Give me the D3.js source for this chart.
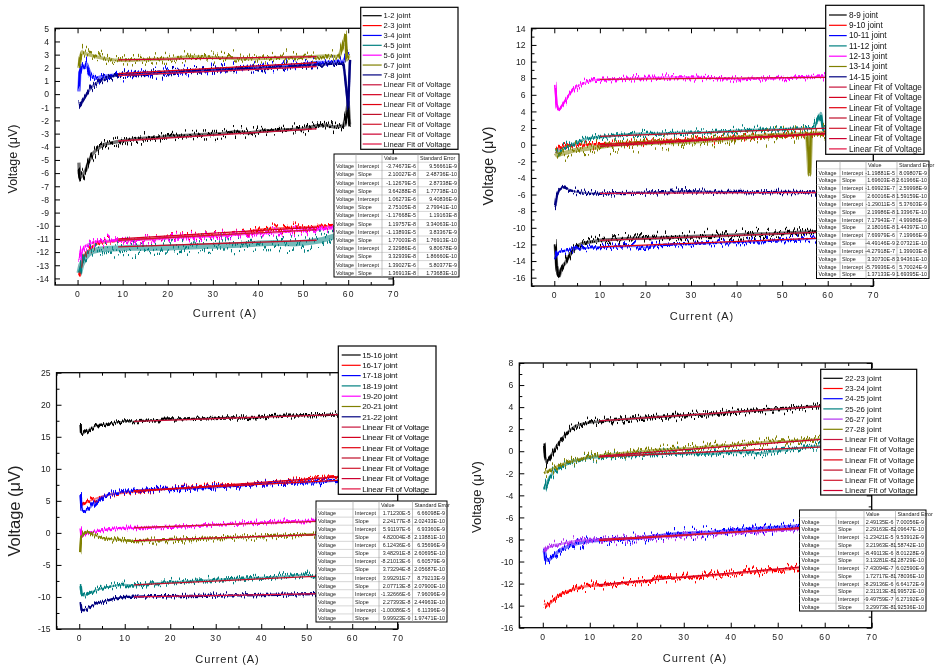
<!DOCTYPE html>
<html><head><meta charset="utf-8">
<script src="https://cdn.jsdelivr.net/npm/d3@7"></script>
<style>body{margin:0;background:#fff}svg{display:block;will-change:transform}svg text{-webkit-font-smoothing:antialiased}</style>
</head><body><svg id="c" width="944" height="666"></svg>
<script>
// ---------------- DATA ----------------
const xTicks = [0,10,20,30,40,50,60,70];
const xMinor = [-5,5,15,25,35,45,55,65];
const yTicksTL = [-14,-13,-12,-11,-10,-9,-8,-7,-6,-5,-4,-3,-2,-1,0,1,2,3,4,5];
const yTicksTR = [-16,-14,-12,-10,-8,-6,-4,-2,0,2,4,6,8,10,12,14];
const yTicksBL = [-15,-10,-5,0,5,10,15,20,25];
const yTicksBR = [-16,-14,-12,-10,-8,-6,-4,-2,0,2,4,6,8];

// Top-left panel: joints 1-2 ... 7-8
const tlNames = ["1-2 joint","2-3 joint","3-4 joint","4-5 joint","5-6 joint","6-7 joint","7-8 joint"];
const tl_12 = [[0.3,-5.2],[0.4,-6.0],[0.7,-6.3],[1.2,-6.1],[1.8,-5.8],[2.5,-5.1],[3.2,-4.6],[4,-4.3],[5,-4.0],[6,-3.8],[7.5,-3.7],[9,-3.6],[11,-3.5],[13,-3.4],[15,-3.35],[18,-3.3],[20,-3.2],[23,-3.15],[26,-3.1],[29,-3.05],[32,-3.0],[35,-2.85],[38,-2.95],[41,-2.8],[44,-2.75],[47,-2.7],[50,-2.65],[53,-2.4],[55,-2.35],[57,-2.5],[59,-2.4],[59.6,-1.5],[60,-0.6],[60.3,-2.3]];
const tl_23 = [[0.4,-13.7],[0.7,-13.2],[1.2,-12.5],[2,-12.0],[3,-11.7],[4,-11.4],[5,-11.3],[7,-11.2],[10,-11.1],[13,-11.05],[16,-11.0],[20,-10.9],[24,-10.8],[28,-10.75],[32,-10.7],[36,-10.6],[40,-10.3],[44,-10.2],[48,-10.15],[52,-10.1],[55,-10.05],[58,-10.0],[60,-9.9]];
const tl_34 = [[0.3,0.2],[0.5,1.6],[1,2.2],[1.5,2.0],[2,2.3],[2.5,1.8],[3,1.4],[4,1.2],[5,1.3],[7,1.4],[10,1.5],[13,1.55],[16,1.6],[20,1.65],[25,1.75],[30,1.85],[35,1.95],[40,2.05],[45,2.15],[50,2.25],[53,2.4],[56,2.4],[59,2.5],[60,3.2]];
const tl_45 = [[0.4,-13.6],[0.8,-13.0],[1.5,-12.5],[2.5,-12.1],[3.5,-11.9],[5,-11.8],[7,-11.75],[10,-11.7],[13,-11.65],[16,-11.7],[20,-11.65],[24,-11.6],[28,-11.55],[32,-11.5],[36,-11.45],[40,-11.35],[44,-11.3],[48,-11.35],[51,-11.25],[54,-11.1],[57,-10.8],[60,-10.7]];
const tl_56 = [[0.4,-12.6],[0.8,-12.0],[1.5,-11.6],[2.5,-11.4],[4,-11.2],[6,-11.15],[10,-11.1],[14,-11.05],[18,-11.0],[22,-10.9],[26,-10.85],[30,-10.8],[34,-10.7],[38,-10.6],[42,-10.55],[46,-10.45],[50,-10.35],[54,-10.25],[57,-10.2],[60,-10.1]];
const tl_67 = [[0.3,2.0],[0.6,2.8],[1,3.2],[1.5,3.1],[2.5,3.0],[4,2.85],[6,2.7],[8,2.6],[11,2.55],[14,2.6],[18,2.65],[21,2.7],[25,2.85],[28,2.8],[32,2.75],[36,2.7],[40,2.7],[44,2.75],[48,2.8],[52,2.85],[55,2.9],[58,2.85],[59.4,4.4],[59.7,2.6],[60.2,2.9]];
const tl_78 = [[0.4,-0.6],[0.6,-0.9],[1,-0.6],[1.5,-0.3],[2,0],[3,0.5],[4,0.8],[5,1.0],[7,1.3],[9,1.45],[12,1.5],[16,1.55],[20,1.65],[25,1.75],[30,1.85],[35,1.9],[40,1.95],[45,2.05],[50,2.15],[53,2.2],[56,2.3],[59,2.3],[60,-1.0],[60.4,2.6]];
const tlFits = [[[9,-3.56],[53,-2.63]],[[9,-11.0],[53,-10.1]],[[9,1.55],[53,2.4]],[[9,-11.6],[53,-11.1]],[[9,-11.1],[53,-10.3]],[[9,2.6],[53,2.85]],[[9,1.4],[53,2.1]]];
const tlTable = [["-3.74673E-6","9.56661E-9"],["2.10027E-8","2.48736E-10"],["-1.12679E-5","2.87338E-9"],["3.64288E-8","1.77738E-10"],["1.06273E-6","9.40836E-9"],["2.75105E-8","2.79941E-10"],["-1.17668E-5","1.19163E-8"],["1.19757E-8","3.34063E-10"],["-1.13893E-5","3.83367E-9"],["1.77003E-8","1.76913E-10"],["2.32986E-6","9.80678E-9"],["3.32939E-8","1.86660E-10"],["1.39027E-6","5.80377E-9"],["1.36913E-8","1.73683E-10"]];

// Top-right panel: joints 8-9 ... 14-15
const trNames = ["8-9 joint","9-10 joint","10-11 joint","11-12 joint","12-13 joint","13-14 joint","14-15 joint"];
const tr_89 = [[0.2,-12.0],[0.5,-14.5],[0.8,-15.6],[1.1,-15.8],[1.5,-15.0],[2,-14.5],[2.5,-14.2],[3,-13.6],[4,-12.8],[5,-12.2],[6,-11.9],[8,-11.7],[10,-11.5],[13,-11.4],[16,-11.3],[20,-11.25],[24,-11.2],[28,-11.1],[32,-11.0],[36,-10.95],[40,-10.85],[44,-10.75],[48,-10.7],[52,-10.6],[56,-10.5],[60,-10.4]];
const tr_910 = [[0.4,-1.0],[0.8,-0.6],[1.5,-0.3],[3,-0.1],[5,0.0],[8,0.05],[10,0.05],[14,0.15],[18,0.3],[22,0.4],[26,0.5],[30,0.6],[34,0.7],[38,0.8],[42,0.9],[46,1.0],[50,1.1],[54,1.2],[57,1.3],[60,1.35]];
const tr_1011 = [[0.2,-13.8],[0.5,-13.2],[1,-12.9],[2,-12.8],[3,-12.7],[5,-12.5],[8,-12.4],[10,-12.3],[14,-12.25],[18,-12.2],[20,-12.4],[22,-12.1],[26,-12.0],[30,-11.95],[34,-11.85],[38,-11.75],[42,-11.7],[46,-11.6],[50,-11.5],[54,-11.4],[57,-11.3],[60,-11.2]];
const tr_1112 = [[0.3,-0.8],[0.8,-1.0],[1.5,-0.6],[3,-0.2],[5,0.3],[7,0.7],[9,0.9],[12,1.0],[15,1.2],[18,1.3],[22,1.3],[26,1.4],[30,1.45],[34,1.5],[38,1.6],[42,1.75],[46,1.8],[50,1.85],[54,1.95],[57,2.0],[58.5,3.8],[59,1.9],[60,2.0]];
const tr_1213 = [[0.2,7.2],[0.5,5.0],[0.8,4.4],[1.2,4.3],[2,4.9],[3,5.8],[4,6.5],[5,7.0],[6,7.3],[7.5,7.6],[9,7.8],[12,7.85],[15,7.9],[18,8.0],[22,8.05],[26,8.1],[30,8.1],[34,8.0],[38,8.0],[40,7.85],[44,7.95],[48,8.0],[52,8.05],[56,8.15],[60,8.25]];
const tr_1314 = [[0.3,-1.0],[0.7,-1.3],[1.5,-1.1],[3,-0.9],[5,-0.6],[7,-0.5],[10,-0.25],[13,0.0],[16,0.1],[20,0.2],[24,0.3],[28,0.35],[32,0.45],[36,0.6],[40,0.8],[44,1.0],[48,1.15],[52,1.2],[55.5,1.3],[56,-3.5],[56.3,1.3],[60,1.4]];
const tr_1415 = [[0.2,-7.5],[0.5,-6.2],[1,-5.5],[1.8,-5.1],[2.5,-5.2],[3.5,-5.5],[5,-5.7],[7,-5.8],[10,-5.9],[13,-5.85],[17,-5.8],[21,-5.75],[25,-5.7],[29,-5.6],[33,-5.65],[37,-5.7],[41,-5.7],[45,-5.75],[49,-5.7],[53,-5.7],[57,-5.75],[60,-5.8]];
const trFits = [[[10,-11.5],[60,-10.5]],[[10,0.0],[60,1.3]],[[10,-12.3],[60,-11.2]],[[10,1.0],[60,2.0]],[[10,7.85],[60,8.1]],[[10,-0.2],[60,1.4]],[[10,-5.85],[60,-5.75]]];
const trTable = [["-1.19881E-5","8.09807E-9"],["1.69603E-8","2.61966E-10"],["-1.69923E-7","2.59998E-9"],["2.60016E-8","1.59159E-10"],["-1.29011E-5","5.37603E-9"],["2.19986E-8","1.33967E-10"],["7.17943E-7","4.99986E-9"],["2.18016E-8","1.44397E-10"],["7.69979E-6","7.19966E-9"],["-4.49146E-9","2.07321E-10"],["-4.27918E-7","1.39903E-8"],["3.30730E-8","3.94361E-10"],["-5.79936E-6","5.70024E-9"],["1.37133E-9","1.69395E-10"]];

// Bottom-left panel: joints 15-16 ... 21-22
const blNames = ["15-16 joint","16-17 joint","17-18 joint","18-19 joint","19-20 joint","20-21 joint","21-22 joint"];
const bl_1516 = [[0.3,17.0],[0.4,15.6],[0.8,15.4],[1.5,15.8],[2.5,16.3],[4,16.8],[6,17.0],[8,17.2],[10,17.4],[13,17.45],[16,17.55],[20,17.7],[24,17.75],[28,17.9],[32,18.0],[36,18.0],[39,17.9],[42,18.2],[46,18.3],[50,18.35],[54,18.4],[57,18.5],[60,18.45]];
const bl_1617 = [[0.3,4.2],[1,4.5],[2,4.9],[3,5.2],[5,5.7],[7,6.0],[10,6.25],[13,6.5],[16,6.7],[20,6.9],[24,7.05],[28,7.2],[32,7.4],[36,7.6],[40,7.75],[44,7.95],[48,8.2],[52,8.5],[56,8.7],[60,8.9]];
const bl_1718 = [[0.3,5.9],[0.5,3.6],[1,3.3],[2,3.7],[3,4.4],[4,5.1],[5,5.6],[7,6.1],[10,6.4],[13,6.65],[16,6.8],[20,6.85],[24,6.9],[28,7.0],[32,7.2],[36,7.45],[40,7.7],[44,7.8],[48,7.85],[52,7.9],[56,8.1],[60,8.2]];
const bl_1819 = [[0.3,-8.0],[0.5,-9.5],[1,-9.8],[1.5,-9.7],[2.5,-9.3],[4,-8.9],[6,-8.5],[8,-8.2],[10,-8.1],[12,-8.2],[14,-8.1],[16,-7.9],[20,-7.7],[24,-7.55],[28,-7.4],[32,-7.25],[36,-7.15],[40,-7.0],[44,-6.85],[48,-6.6],[50,-6.5],[51.5,-7.0],[54,-6.9],[57,-6.7],[60,-6.6]];
const bl_1920 = [[0.3,0.7],[0.5,-0.6],[1,-0.3],[2,0.0],[4,0.3],[6,0.5],[8,0.7],[10,0.8],[14,0.75],[18,0.9],[22,1.0],[26,1.1],[30,1.3],[34,1.4],[38,1.55],[42,1.65],[46,1.8],[50,1.85],[54,1.9],[57,1.95],[60,2.0]];
const bl_2021 = [[0.2,-3.0],[0.4,-0.8],[0.8,-0.3],[1.5,0.2],[2.5,0.0],[3.5,-0.4],[5,-0.8],[7,-1.0],[10,-1.15],[13,-1.3],[16,-1.2],[20,-1.1],[24,-1.0],[28,-0.9],[32,-0.8],[36,-0.7],[40,-0.55],[44,-0.45],[48,-0.35],[52,-0.25],[56,-0.15],[60,-0.1]];
const bl_2122 = [[0.3,-10.8],[0.5,-12.0],[1,-12.1],[2,-11.7],[3,-11.3],[4,-11.0],[6,-10.6],[8,-10.2],[10,-10.0],[13,-9.95],[16,-9.9],[20,-9.9],[24,-9.85],[28,-9.8],[32,-9.75],[36,-9.75],[40,-9.7],[44,-9.65],[48,-9.6],[52,-9.55],[56,-9.5],[60,-9.5]];
const blFits = [[[12,17.4],[60,18.55]],[[12,6.45],[60,8.9]],[[12,6.6],[60,8.3]],[[12,-8.1],[60,-6.5]],[[12,0.8],[60,2.0]],[[12,-1.2],[60,-0.1]],[[12,-10.0],[60,-9.4]]];
const blTable = [["1.71230E-5","6.66098E-9"],["2.24177E-8","2.02433E-10"],["5.91197E-6","6.93360E-9"],["4.82004E-8","2.13881E-10"],["6.12436E-6","6.35696E-9"],["3.48291E-8","2.60695E-10"],["-8.21013E-6","6.60579E-9"],["3.73294E-8","2.05687E-10"],["3.99291E-7","8.79213E-9"],["2.07713E-8","2.07900E-10"],["-1.32666E-6","7.96096E-9"],["2.27393E-8","2.44963E-10"],["-1.00086E-5","6.11396E-9"],["9.99923E-9","1.97471E-10"]];

// Bottom-right panel: joints 22-23 ... 27-28
const brNames = ["22-23 joint","23-24 joint","24-25 joint","25-26 joint","26-27 joint","27-28 joint"];
const br_2223 = [[0.3,0.7],[0.5,-0.5],[0.8,-1.0],[1.2,-0.8],[2,-0.2],[3,0.5],[4,1.1],[5,1.6],[6,2.0],[7,2.3],[8.5,2.5],[10,2.6],[13,2.75],[16,2.85],[20,3.0],[24,3.1],[28,3.2],[32,3.3],[36,3.35],[40,3.55],[44,3.65],[48,3.75],[52,3.85],[56,4.0],[60,4.1]];
const br_2324 = [[0.3,-13.8],[1,-14.0],[2,-13.6],[3,-13.2],[4,-12.9],[6,-12.6],[8,-12.3],[10,-12.2],[13,-12.15],[16,-12.0],[20,-11.8],[23,-11.75],[24.5,-11.4],[28,-11.45],[32,-11.35],[36,-11.25],[40,-11.1],[44,-10.95],[48,-10.8],[52,-10.7],[56,-10.5],[60,-10.3]];
const br_2425 = [[0.3,-9.0],[0.6,-9.8],[1.2,-9.9],[2,-9.6],[3,-9.2],[4,-8.9],[6,-8.5],[8,-8.3],[10,-8.15],[13,-8.05],[16,-7.95],[20,-7.9],[24,-7.7],[28,-7.5],[32,-7.4],[36,-7.35],[40,-7.2],[44,-7.05],[48,-6.95],[52,-6.85],[56,-6.75],[60,-6.7]];
const br_2526 = [[0.3,-3.5],[0.7,-3.0],[1.5,-2.3],[2.5,-1.8],[4,-1.4],[6,-1.0],[8,-0.75],[10,-0.6],[13,-0.5],[16,-0.4],[20,-0.35],[24,-0.25],[28,-0.2],[32,-0.15],[36,-0.25],[40,-0.05],[44,-0.1],[46,-0.2],[50,0.05],[54,0.25],[57,0.4],[60,0.5]];
const br_2627 = [[0.3,-8.7],[0.6,-9.0],[1.2,-8.7],[2.5,-8.5],[4,-8.4],[6,-8.2],[8,-8.1],[10,-8.05],[13,-8.0],[16,-7.95],[20,-7.9],[24,-7.8],[28,-7.7],[32,-7.55],[36,-7.45],[40,-7.4],[44,-7.3],[48,-7.2],[52,-7.1],[56,-7.0],[60,-6.9]];
const br_2728 = [[0.3,-2.0],[1,-1.8],[2,-1.6],[3,-1.4],[4,-1.2],[6,-0.9],[8,-0.7],[10,-0.5],[13,-0.35],[16,-0.2],[20,-0.05],[24,0.1],[28,0.2],[32,0.3],[36,0.45],[40,0.55],[44,0.7],[48,0.85],[52,0.9],[56,1.0],[60,1.15]];
const brFits = [[[12,2.75],[60,4.1]],[[12,-12.1],[60,-10.3]],[[12,-8.1],[60,-6.8]],[[12,-0.5],[60,0.4]],[[12,-8.0],[60,-6.9]],[[12,-0.45],[60,1.1]]];
const brTable = [["2.49135E-6","7.00056E-9"],["2.29163E-8","2.09647E-10"],["-1.23421E-5","9.53912E-9"],["3.21963E-8","1.58742E-10"],["-8.49113E-6","8.01228E-9"],["3.13281E-8","2.28729E-10"],["-7.43094E-7","6.02590E-9"],["1.72717E-8","1.78036E-10"],["-8.29136E-6","6.64172E-9"],["2.31313E-8","1.99572E-10"],["-9.49759E-7","6.27192E-9"],["3.29973E-8","1.92536E-10"]];

const fitLabel = "Linear Fit of Voltage";
const yTitle = "Voltage (\u03bcV)";
const xTitle = "Current (A)";
const tableHeader = ["", "", "Value", "Standard Error"];

// ---------------- DRAWING ----------------
const svg = d3.select("#c");
const FONT = "'Liberation Sans', Arial, sans-serif";
const C = {black:"#000000", red:"#ff0000", blue:"#0000ff", teal:"#008080", mag:"#ff00ff", olive:"#808000", navy:"#000080", violet:"#b030f0"};
const fitCols = ["#c8143c","#d40020","#e00010","#c0102a","#d0182e","#cc0030","#e01040"];

// visual "trace texture" filters (style only): vertical jitter of the stroke
const defs = svg.append("defs");
const jitterScales = [10,14,18,24,32,42];
jitterScales.forEach(s => {
  const f = defs.append("filter").attr("id","jit"+s).attr("filterUnits","userSpaceOnUse")
    .attr("x",0).attr("y",0).attr("width",944).attr("height",666);
  f.append("feTurbulence").attr("type","fractalNoise").attr("baseFrequency","0.9 0.015")
    .attr("numOctaves",2).attr("seed",s).attr("result","t");
  f.append("feColorMatrix").attr("in","t").attr("type","matrix")
    .attr("values","0 0 0 0 0.5  0 1 0 0 0  0 0 0 0 0.5  0 0 0 0 1").attr("result","m");
  f.append("feDisplacementMap").attr("in","SourceGraphic").attr("in2","m").attr("scale",s)
    .attr("xChannelSelector","R").attr("yChannelSelector","G");
});

const panels = [
 {id:"tl", L:55, R:393.3, T:28.3, B:285, yd:[-14.5,5], yt:yTicksTL, ym:[],
  series:[tl_12,tl_23,tl_34,tl_45,tl_56,tl_67,tl_78], names:tlNames,
  colors:[C.black,C.red,C.blue,C.teal,C.mag,C.olive,C.navy], jit:[24,18,24,42,18,24,18],
  fits:tlFits, table:tlTable,
  ylab:{x:12.5,y:159,fs:12.5}, xlab:{x:225,y:313},
  leg:{x0:360.7,y0:7.3,x1:458,y1:149.3,r0:15.7,dr:9.87,l0:362.7,l1:381.7,tx:383.5,fs:7.6,ls:0},
  tab:{cols:[334,356,382,418,459],top:154,bottom:277}},
 {id:"tr", L:531.5, R:873.3, T:28.3, B:286, yd:[-17,14], yt:yTicksTR, ym:d3.range(-17,14,2),
  series:[tr_89,tr_910,tr_1011,tr_1112,tr_1213,tr_1314,tr_1415], names:trNames,
  colors:[C.black,C.red,C.blue,C.teal,C.mag,C.olive,C.navy], jit:[24,14,14,18,14,32,14],
  fits:trFits, table:trTable,
  ylab:{x:488,y:166,fs:14.3}, xlab:{x:702,y:316},
  leg:{x0:825.7,y0:5.3,x1:924,y1:154.3,r0:15,dr:10.3,l0:829,l1:846.7,tx:849,fs:8.2,ls:0},
  tab:{cols:[816.5,840,866,897,929],top:161,bottom:278.5}},
 {id:"bl", L:56.5, R:397.7, T:372.7, B:629, yd:[-15,25], yt:yTicksBL, ym:d3.range(-12.5,25,5),
  series:[bl_1516,bl_1617,bl_1718,bl_1819,bl_1920,bl_2021,bl_2122], names:blNames,
  colors:[C.black,C.red,C.blue,C.teal,C.mag,C.olive,C.navy], jit:[10,14,14,14,10,14,10],
  fits:blFits, table:blTable,
  ylab:{x:14,y:511,fs:16.5}, xlab:{x:227.5,y:659},
  leg:{x0:338.3,y0:346,x1:436,y1:494.3,r0:355,dr:10.3,l0:341.7,l1:360.7,tx:362.3,fs:8.1,ls:-0.25},
  tab:{cols:[316,353,379,412.5,447],top:501,bottom:622}},
 {id:"br", L:519.3, R:871.7, T:363, B:627.7, yd:[-16,8], yt:yTicksBR, ym:d3.range(-15,8,2),
  series:[br_2223,br_2324,br_2425,br_2526,br_2627,br_2728], names:brNames,
  colors:[C.black,C.red,C.blue,C.teal,C.violet,C.olive], jit:[18,18,24,18,18,18],
  fits:brFits, table:brTable,
  ylab:{x:476,y:497,fs:13},xlab:{x:695,y:658},
  leg:{x0:820.7,y0:369.3,x1:916.7,y1:495,r0:378.3,dr:10.2,l0:823.3,l1:842.7,tx:845,fs:7.8,ls:0},
  tab:{cols:[799.5,836,864,895.5,926],top:510,bottom:611}}
];

const fmt = d => String(d);

panels.forEach(p => {
  const x = d3.scaleLinear().domain([-5,70]).range([p.L,p.R]);
  const y = d3.scaleLinear().domain(p.yd).range([p.B,p.T]);
  const g = svg.append("g");
  const clipId = "clip-"+p.id;
  g.append("clipPath").attr("id",clipId).append("rect")
    .attr("x",p.L).attr("y",p.T).attr("width",p.R-p.L).attr("height",p.B-p.T);
  const line = d3.line().x(d=>x(d[0])).y(d=>y(d[1]));
  const dg = g.append("g").attr("clip-path",`url(#${clipId})`);
  p.series.forEach((s,i)=>{
    const js = p.jit[i];
    dg.append("path").datum(s).attr("d",line).attr("fill","none")
      .attr("stroke",p.colors[i]).attr("stroke-width",js*0.14).attr("stroke-opacity",0.55)
      .attr("stroke-linejoin","round");
    dg.append("path").datum(s).attr("d",line).attr("fill","none")
      .attr("stroke",p.colors[i]).attr("stroke-width",2.4).attr("stroke-linejoin","round")
      .attr("filter",`url(#jit${js})`);
  });
  p.fits.forEach((f,i)=>{
    dg.append("path").datum(f).attr("d",line).attr("fill","none")
      .attr("stroke",fitCols[i%fitCols.length]).attr("stroke-width",1.3);
  });

  // axes (ticks pointing inward on all sides)
  const mk = (axis, sel, vals, size, labels) => {
    const a = axis.tickValues(vals).tickSize(-size).tickSizeOuter(0).tickPadding(6)
      .tickFormat(labels ? fmt : "");
    sel.call(a); sel.select(".domain").remove();
    sel.selectAll("line").attr("stroke","#000").attr("stroke-width",1);
    sel.selectAll("text").attr("font-family",FONT).attr("font-size",8.6).attr("fill","#222");
  };
  const gb = g.append("g").attr("transform",`translate(0,${p.B})`);
  mk(d3.axisBottom(x), gb, xTicks, 5, true);
  gb.selectAll("text").attr("letter-spacing",1.2);
  mk(d3.axisBottom(x), g.append("g").attr("transform",`translate(0,${p.B})`), xMinor, 3, false);
  mk(d3.axisTop(x), g.append("g").attr("transform",`translate(0,${p.T})`), xTicks, 5, false);
  mk(d3.axisTop(x), g.append("g").attr("transform",`translate(0,${p.T})`), xMinor, 3, false);
  mk(d3.axisLeft(y), g.append("g").attr("transform",`translate(${p.L},0)`), p.yt, 5, true);
  if (p.ym.length) mk(d3.axisLeft(y), g.append("g").attr("transform",`translate(${p.L},0)`), p.ym, 3, false);
  mk(d3.axisRight(y), g.append("g").attr("transform",`translate(${p.R},0)`), p.yt, 5, false);
  if (p.ym.length) mk(d3.axisRight(y), g.append("g").attr("transform",`translate(${p.R},0)`), p.ym, 3, false);
  g.append("rect").attr("x",p.L).attr("y",p.T).attr("width",p.R-p.L).attr("height",p.B-p.T)
    .attr("fill","none").attr("stroke","#000").attr("stroke-width",1.3);

  // titles
  g.append("text").attr("transform",`translate(${p.ylab.x},${p.ylab.y}) rotate(-90)`)
    .attr("text-anchor","middle").attr("dy","0.35em").attr("font-family",FONT)
    .attr("font-size",p.ylab.fs).attr("fill","#222").text(yTitle);
  g.append("text").attr("x",p.xlab.x).attr("y",p.xlab.y).attr("text-anchor","middle")
    .attr("dy","0.35em").attr("font-family",FONT).attr("font-size",11).attr("letter-spacing",0.9)
    .attr("fill","#222").text(xTitle);

  // legend
  const lg = p.leg;
  g.append("rect").attr("x",lg.x0).attr("y",lg.y0).attr("width",lg.x1-lg.x0).attr("height",lg.y1-lg.y0)
    .attr("fill","#fff").attr("stroke","#000").attr("stroke-width",1.2);
  const items = p.names.map((n,i)=>({n, c:p.colors[i]}))
    .concat(p.fits.map((f,i)=>({n:fitLabel, c:fitCols[i%fitCols.length]})));
  items.forEach((it,i)=>{
    const yy = lg.r0 + i*lg.dr;
    g.append("line").attr("x1",lg.l0).attr("x2",lg.l1).attr("y1",yy).attr("y2",yy)
      .attr("stroke",it.c).attr("stroke-width",1.2);
    g.append("text").attr("x",lg.tx).attr("y",yy).attr("dy","0.35em").attr("font-family",FONT)
      .attr("font-size",lg.fs).attr("letter-spacing",lg.ls).attr("fill","#111").text(it.n);
  });

  // fit-parameter table
  const tb = p.tab, cols = tb.cols;
  const nRows = p.table.length + 1;
  const rh = (tb.bottom - tb.top) / nRows;
  g.append("rect").attr("x",cols[0]).attr("y",tb.top).attr("width",cols[4]-cols[0]).attr("height",tb.bottom-tb.top)
    .attr("fill","#fff").attr("stroke","#000").attr("stroke-width",1);
  for (let r=1;r<nRows;r++){
    g.append("line").attr("x1",cols[0]).attr("x2",cols[4]).attr("y1",tb.top+r*rh).attr("y2",tb.top+r*rh)
      .attr("stroke","#bbb").attr("stroke-width",0.6);
  }
  for (let c=1;c<4;c++){
    g.append("line").attr("x1",cols[c]).attr("x2",cols[c]).attr("y1",tb.top).attr("y2",tb.bottom)
      .attr("stroke","#999").attr("stroke-width",0.6);
  }
  const tfs = Math.min(5.4, rh*0.7);
  const txt = (xx, yy, s, anchor) => g.append("text").attr("x",xx).attr("y",yy).attr("dy","0.35em")
    .attr("text-anchor",anchor).attr("font-family",FONT).attr("font-size",tfs).attr("fill","#222").text(s);
  txt(cols[2]+2, tb.top+rh/2, tableHeader[2], "start");
  txt(cols[3]+2, tb.top+rh/2, tableHeader[3], "start");
  p.table.forEach((row,i)=>{
    const yy = tb.top + (i+1.5)*rh;
    txt(cols[0]+2, yy, "Voltage", "start");
    txt(cols[1]+2, yy, i%2===0 ? "Intercept" : "Slope", "start");
    txt(cols[3]-2, yy, row[0], "end");
    txt(cols[4]-2, yy, row[1], "end");
  });
});
</script>
</body></html>
